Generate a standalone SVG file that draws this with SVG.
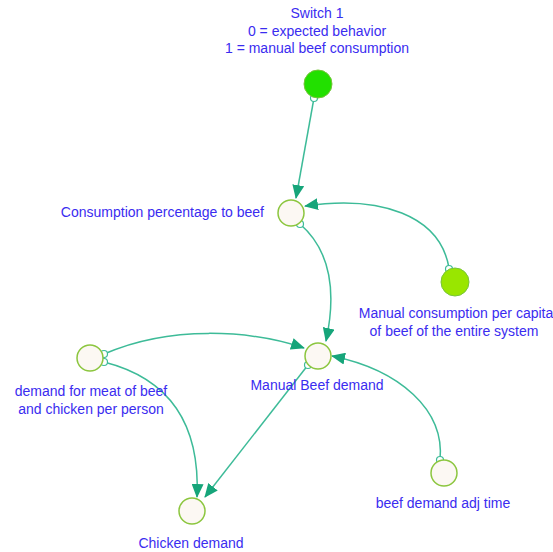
<svg xmlns="http://www.w3.org/2000/svg" width="553" height="552" viewBox="0 0 553 552">
  <style>
    .lbl { font-family: "Liberation Sans", Arial, sans-serif; font-size: 14px; fill: #3a2cf0; }
    .aux { fill: #fcf8f3; stroke: #8cc63f; stroke-width: 1.5; }
    .link { fill: none; stroke: #3dbb98; stroke-width: 1.5; }
    .tail { fill: #ffffff; stroke: #3dbb98; stroke-width: 1.2; }
  </style>
  <defs>
    <marker id="arrow" viewBox="0 0 14 12" refX="13" refY="6" markerWidth="14" markerHeight="12" markerUnits="userSpaceOnUse" orient="auto">
      <path d="M0,0 L14,6 L0,12 z" fill="#16a57a"/>
    </marker>
  </defs>
  <rect width="553" height="552" fill="#ffffff"/>

  <g id="connectors">
    <path class="link" marker-end="url(#arrow)" d="M314,98 L296,198"/>
    <path class="link" marker-end="url(#arrow)" d="M449,268 C440,215 380,195 305,206"/>
    <path class="link" marker-end="url(#arrow)" d="M300,224 C330,250 337,290 326,341"/>
    <path class="link" marker-end="url(#arrow)" d="M104,354 C170,325 250,330 304,348"/>
    <path class="link" marker-end="url(#arrow)" d="M104,362 C175,380 200,430 197,497"/>
    <path class="link" marker-end="url(#arrow)" d="M308,365 L205,497"/>
    <path class="link" marker-end="url(#arrow)" d="M440,460 C445,410 400,370 332,356"/>
    <circle class="tail" cx="314" cy="98" r="3.5"/>
    <circle class="tail" cx="449" cy="269" r="3.5"/>
    <circle class="tail" cx="300" cy="224" r="3.5"/>
    <circle class="tail" cx="104" cy="354" r="3.5"/>
    <circle class="tail" cx="104" cy="362" r="3.5"/>
    <circle class="tail" cx="308" cy="365" r="3.5"/>
    <circle class="tail" cx="440" cy="460" r="3.5"/>
  </g>

  <g id="switch1">
    <circle cx="318" cy="84" r="14" fill="#22e000" stroke="#77c43a" stroke-width="1"/>
    <text class="lbl" x="317" y="18" text-anchor="middle">Switch 1</text>
    <text class="lbl" x="317" y="36" text-anchor="middle">0 = expected behavior</text>
    <text class="lbl" x="317" y="53" text-anchor="middle">1 = manual beef consumption</text>
  </g>

  <g id="consumption-percentage">
    <circle class="aux" cx="291" cy="213" r="13"/>
    <text class="lbl" x="264" y="217" text-anchor="end">Consumption percentage to beef</text>
  </g>

  <g id="manual-consumption-per-capita">
    <circle cx="455" cy="282" r="14" fill="#99e600" stroke="#77c43a" stroke-width="1"/>
    <text class="lbl" x="456" y="318" text-anchor="middle">Manual consumption per capita</text>
    <text class="lbl" x="454" y="336" text-anchor="middle">of beef of the entire system</text>
  </g>

  <g id="manual-beef-demand">
    <circle class="aux" cx="318" cy="356" r="13"/>
    <text class="lbl" x="317" y="390" text-anchor="middle">Manual Beef demand</text>
  </g>

  <g id="demand-meat-per-person">
    <circle class="aux" cx="90" cy="358" r="13"/>
    <text class="lbl" x="91" y="396" text-anchor="middle">demand for meat of beef</text>
    <text class="lbl" x="91" y="414" text-anchor="middle">and chicken per person</text>
  </g>

  <g id="chicken-demand">
    <circle class="aux" cx="192" cy="511" r="13"/>
    <text class="lbl" x="191" y="548" text-anchor="middle">Chicken demand</text>
  </g>

  <g id="beef-demand-adj-time">
    <circle class="aux" cx="444" cy="473" r="13"/>
    <text class="lbl" x="443" y="508" text-anchor="middle">beef demand adj time</text>
  </g>
</svg>
